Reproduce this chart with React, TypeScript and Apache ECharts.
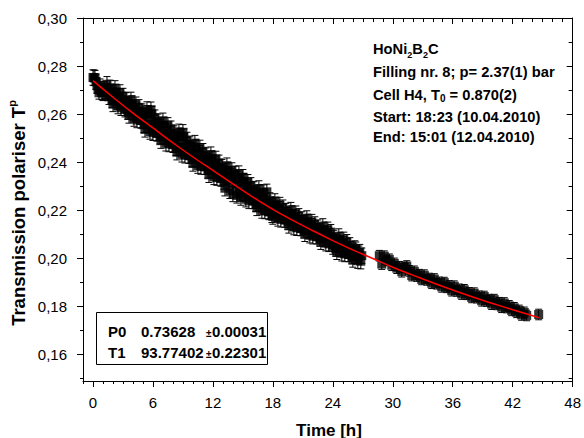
import React, { useEffect, useRef } from 'react';
import * as echarts from 'echarts';

const X_MAJOR = [0, 6, 12, 18, 24, 30, 36, 42, 48];
const X_MINOR = [-1, 1, 2, 3, 4, 5, 7, 8, 9, 10, 11, 13, 14, 15, 16, 17, 19, 20, 21, 22, 23, 25, 26, 27, 28, 29, 31, 32, 33, 34, 35, 37, 38, 39, 40, 41, 43, 44, 45, 46, 47];
const Y_MAJOR = [0.16, 0.18, 0.2, 0.22, 0.24, 0.26, 0.28, 0.3];
const Y_MINOR = [0.15, 0.17, 0.19, 0.21, 0.23, 0.25, 0.27, 0.29];

// measured points [time h, transmission], first run
const SEG1 = [[0,0.2752],[0.1,0.2751],[0.2,0.2750],[0.3,0.2735],[0.4,0.2718],[0.5,0.2704],[0.6,0.2694],[0.7,0.2714],[0.8,0.2704],[0.9,0.2692],
[1.0,0.2688],[1.1,0.2704],[1.2,0.2697],[1.3,0.2694],[1.4,0.2724],[1.5,0.2688],[1.6,0.2672],[1.7,0.2709],[1.8,0.2689],[1.9,0.2658],
[2.0,0.2642],[2.1,0.2675],[2.2,0.2707],[2.3,0.2692],[2.4,0.2652],[2.5,0.2633],[2.6,0.2673],[2.7,0.2690],[2.8,0.2626],[2.9,0.2659],
[3.0,0.2675],[3.1,0.2636],[3.2,0.2620],[3.3,0.2657],[3.4,0.2637],[3.5,0.2610],[3.6,0.2594],[3.7,0.2627],[3.8,0.2659],[3.9,0.2644],
[4.0,0.2604],[4.1,0.2581],[4.2,0.2622],[4.3,0.2639],[4.4,0.2575],[4.5,0.2611],[4.6,0.2628],[4.7,0.2589],[4.8,0.2573],[4.9,0.2610],
[5.0,0.2593],[5.1,0.2555],[5.2,0.2536],[5.3,0.2578],[5.4,0.2619],[5.5,0.2603],[5.6,0.2555],[5.7,0.2527],[5.8,0.2618],[5.9,0.2600],
[6.0,0.2522],[6.1,0.2564],[6.2,0.2585],[6.3,0.2537],[6.4,0.2519],[6.5,0.2568],[6.6,0.2545],[6.7,0.2507],[6.8,0.2489],[6.9,0.2531],
[7.0,0.2572],[7.1,0.2554],[7.2,0.2506],[7.3,0.2478],[7.4,0.2530],[7.5,0.2553],[7.6,0.2475],[7.7,0.2517],[7.8,0.2539],[7.9,0.2491],
[8.0,0.2472],[8.1,0.2519],[8.2,0.2496],[8.3,0.2459],[8.4,0.2441],[8.5,0.2484],[8.6,0.2526],[8.7,0.2508],[8.8,0.2460],[8.9,0.2432],
[9.0,0.2524],[9.1,0.2506],[9.2,0.2428],[9.3,0.2470],[9.4,0.2492],[9.5,0.2444],[9.6,0.2426],[9.7,0.2473],[9.8,0.2450],[9.9,0.2412],
[10.0,0.2394],[10.1,0.2437],[10.2,0.2479],[10.3,0.2461],[10.4,0.2413],[10.5,0.2385],[10.6,0.2437],[10.7,0.2459],[10.8,0.2381],[10.9,0.2423],
[11.0,0.2445],[11.1,0.2398],[11.2,0.2380],[11.3,0.2427],[11.4,0.2404],[11.5,0.2365],[11.6,0.2347],[11.7,0.2389],[11.8,0.2431],[11.9,0.2414],
[12.0,0.2366],[12.1,0.2338],[12.2,0.2390],[12.3,0.2413],[12.4,0.2335],[12.5,0.2375],[12.6,0.2397],[12.7,0.2349],[12.8,0.2331],[12.9,0.2379],
[13.0,0.2356],[13.1,0.2319],[13.2,0.2291],[13.3,0.2343],[13.4,0.2385],[13.5,0.2365],[13.6,0.2317],[13.7,0.2280],[13.8,0.2342],[13.9,0.2365],
[14.0,0.2267],[14.1,0.2329],[14.2,0.2351],[14.3,0.2304],[14.4,0.2261],[14.5,0.2330],[14.6,0.2352],[14.7,0.2270],[14.8,0.2252],[14.9,0.2295],
[15.0,0.2337],[15.1,0.2320],[15.2,0.2272],[15.3,0.2245],[15.4,0.2297],[15.5,0.2316],[15.6,0.2238],[15.7,0.2281],[15.8,0.2303],[15.9,0.2256],
[16.0,0.2238],[16.1,0.2286],[16.2,0.2263],[16.3,0.2226],[16.4,0.2209],[16.5,0.2248],[16.6,0.2290],[16.7,0.2273],[16.8,0.2225],[16.9,0.2198],
[17.0,0.2250],[17.1,0.2273],[17.2,0.2196],[17.3,0.2239],[17.4,0.2276],[17.5,0.2210],[17.6,0.2192],[17.7,0.2240],[17.8,0.2217],[17.9,0.2180],
[18.0,0.2173],[18.1,0.2205],[18.2,0.2236],[18.3,0.2222],[18.4,0.2185],[18.5,0.2165],[18.6,0.2204],[18.7,0.2221],[18.8,0.2161],[18.9,0.2193],
[19.0,0.2210],[19.1,0.2174],[19.2,0.2160],[19.3,0.2196],[19.4,0.2179],[19.5,0.2150],[19.6,0.2136],[19.7,0.2168],[19.8,0.2200],[19.9,0.2186],
[20.0,0.2149],[20.1,0.2129],[20.2,0.2168],[20.3,0.2185],[20.4,0.2126],[20.5,0.2158],[20.6,0.2174],[20.7,0.2138],[20.8,0.2125],[20.9,0.2161],
[21.0,0.2144],[21.1,0.2115],[21.2,0.2101],[21.3,0.2133],[21.4,0.2165],[21.5,0.2151],[21.6,0.2115],[21.7,0.2095],[21.8,0.2133],[21.9,0.2150],
[22.0,0.2091],[22.1,0.2123],[22.2,0.2140],[22.3,0.2104],[22.4,0.2091],[22.5,0.2127],[22.6,0.2110],[22.7,0.2081],[22.8,0.2068],[22.9,0.2100],
[23.0,0.2132],[23.1,0.2118],[23.2,0.2082],[23.3,0.2062],[23.4,0.2101],[23.5,0.2118],[23.6,0.2059],[23.7,0.2091],[23.8,0.2108],[23.9,0.2072],
[24.0,0.2048],[24.1,0.2084],[24.2,0.2067],[24.3,0.2039],[24.4,0.2026],[24.5,0.2058],[24.6,0.2090],[24.7,0.2076],[24.8,0.2040],[24.9,0.2020],
[25.0,0.2059],[25.1,0.2076],[25.2,0.2017],[25.3,0.2049],[25.4,0.2066],[25.5,0.2030],[25.6,0.2017],[25.7,0.2053],[25.8,0.2036],[25.9,0.2007],
[26.0,0.1994],[26.1,0.2027],[26.2,0.2040],[26.3,0.2035],[26.4,0.2009],[26.5,0.1989],[26.6,0.2018],[26.7,0.2025],[26.8,0.1987],[26.9,0.2010]];
// second run
const SEG2 = [[28.65,0.2010],[28.9,0.1975],[29.15,0.2008],[29.4,0.1990],[29.65,0.1995],[29.9,0.1970],[30.15,0.1978],[30.4,0.1958],[30.65,0.1964],[30.9,0.1943],[31.15,0.1961],[31.4,0.1967],[31.65,0.1947],[31.9,0.1927],[32.15,0.1945],[32.4,0.1925],[32.65,0.1931],[32.9,0.1911],[33.15,0.1929],[33.4,0.1909],[33.65,0.1915],[33.9,0.1895],[34.15,0.1913],[34.4,0.1893],[34.65,0.1899],[34.9,0.1880],[35.15,0.1898],[35.4,0.1878],[35.65,0.1884],[35.9,0.1864],[36.15,0.1883],[36.4,0.1863],[36.65,0.1870],[36.9,0.1850],[37.15,0.1868],[37.4,0.1849],[37.65,0.1855],[37.9,0.1836],[38.15,0.1854],[38.4,0.1835],[38.65,0.1841],[38.9,0.1822],[39.15,0.1840],[39.4,0.1821],[39.65,0.1827],[39.9,0.1808],[40.15,0.1827],[40.4,0.1807],[40.65,0.1814],[40.9,0.1795],[41.15,0.1813],[41.4,0.1794],[41.65,0.1801],[41.9,0.1782],[42.15,0.1793],[42.4,0.1774],[42.65,0.1782],[42.9,0.1763],[43.15,0.1774],[43.4,0.1761]];
const SEG3 = [[44.6, 0.1765]];
const ERR1 = 0.0032;
const ERR2 = 0.0022;

// fit curve
const FIT_T = [0, 2, 4, 6, 8, 10, 12, 14, 16, 18, 20, 22, 24, 26, 28, 30, 32, 34, 36, 38, 40, 42, 44, 44.7];
const FIT_Y = [0.2739, 0.2670, 0.2604, 0.2542, 0.2480, 0.2421, 0.2365, 0.2309, 0.2254, 0.2203, 0.2157, 0.2114, 0.2073, 0.2034, 0.1998, 0.1962, 0.1929, 0.1897, 0.1867, 0.1838, 0.1811, 0.1785, 0.1760, 0.1751];

const FONT = "'Liberation Sans', Arial, Helvetica, sans-serif";

export default function App() {
  const ref = useRef<HTMLDivElement>(null);
  useEffect(() => {
    if (!ref.current) return;
    const chart = echarts.init(ref.current, undefined, { renderer: 'svg' });
    const cv = document.createElement('canvas').getContext('2d')!;
    const w = (t: string, f: string) => { cv.font = f; return cv.measureText(t).width; };

    const xMin = -1, xMax = 48, yMin = 0.1488, yMax = 0.30;
    const black = { color: '#000', width: 1 };
    const baseX = { type: 'value', min: xMin, max: xMax, splitLine: { show: false }, gridIndex: 0 };
    const baseY = { type: 'value', min: yMin, max: yMax, splitLine: { show: false }, gridIndex: 0 };

    const errSeries = (data: number[][], err: number) => ({
      type: 'custom',
      xAxisIndex: 0, yAxisIndex: 0,
      data: data.map(d => [d[0], d[1], err]),
      encode: { x: 0, y: 1 },
      z: 2,
      renderItem: (params: any, api: any) => {
        const x = api.value(0), y = api.value(1), e = api.value(2);
        const p1 = api.coord([x, y + e]);
        const p2 = api.coord([x, y - e]);
        const hw = 3.5;
        const st = { stroke: '#000', lineWidth: 1 };
        return {
          type: 'group', children: [
            { type: 'line', shape: { x1: p1[0], y1: p1[1], x2: p2[0], y2: p2[1] }, style: st },
            { type: 'line', shape: { x1: p1[0] - hw, y1: p1[1], x2: p1[0] + hw, y2: p1[1] }, style: st },
            { type: 'line', shape: { x1: p2[0] - hw, y1: p2[1], x2: p2[0] + hw, y2: p2[1] }, style: st },
          ],
        };
      },
    });
    const ptSeries = (data: number[][]) => ({
      type: 'scatter', xAxisIndex: 0, yAxisIndex: 0, data,
      symbol: 'rect', symbolSize: 9, itemStyle: { color: '#000' }, z: 3,
    });

    const annSize = 14.7;
    const boldA = `bold ${annSize}px ${FONT}`;
    const bold9 = `bold 9px ${FONT}`;
    const bold10 = `bold 10px ${FONT}`;
    const txt = (text: string, x: number, y: number, font: string, align = 'left') => ({
      type: 'text', x, y, z: 100,
      style: { text, font, fill: '#000', textAlign: align, textVerticalAlign: 'middle' },
    });

    // line 1: HoNi2B2C
    const ax = 373;
    const l1: any[] = [];
    let cx = ax;
    const parts1: [string, boolean][] = [['HoNi', false], ['2', true], ['B', false], ['2', true], ['C', false]];
    parts1.forEach(([s, sub]) => {
      l1.push(txt(s, cx, sub ? 55 : 49, sub ? bold9 : boldA));
      cx += w(s, sub ? bold9 : boldA);
    });
    // line 3
    const c1 = 'Cell H4, T';
    const c1w = w(c1, boldA);
    const c0w = w('0', bold10);
    const l3 = [
      txt(c1, ax, 95, boldA),
      txt('0', ax + c1w, 98, bold10),
      txt(' = 0.870(2)', ax + c1w + c0w, 95, boldA),
    ];

    // y title
    const yFont = `bold 18.5px ${FONT}`;
    const supFont = `bold 11px ${FONT}`;
    const yt = 'Transmission polariser T';
    const ytw = w(yt, yFont);
    const ypw = w('p', supFont);
    const tot = ytw + ypw;
    const yTitle = {
      type: 'group', x: 18, y: 213, rotation: Math.PI / 2, z: 100,
      children: [
        { type: 'text', x: -tot / 2, y: 0, style: { text: yt, font: yFont, fill: '#000', textAlign: 'left', textVerticalAlign: 'middle' } },
        { type: 'text', x: -tot / 2 + ytw, y: -6, style: { text: 'p', font: supFont, fill: '#000', textAlign: 'left', textVerticalAlign: 'middle' } },
      ],
    };

    const boxFont = `bold 15px ${FONT}`;
    const pmFont = `bold 10px ${FONT}`;

    chart.setOption({
      animation: false,
      backgroundColor: '#fff',
      grid: { left: 83, right: 11, top: 18, bottom: 57, containLabel: false },
      xAxis: [
        { ...baseX, position: 'bottom',
          axisLine: { show: true, onZero: false, lineStyle: black },
          axisTick: { show: true, inside: false, length: 6, customValues: X_MAJOR, lineStyle: black },
          axisLabel: { show: true, customValues: X_MAJOR, color: '#000', fontSize: 15, fontFamily: FONT, margin: 14 } },
        { ...baseX, position: 'bottom',
          axisLine: { show: false, onZero: false },
          axisTick: { show: true, inside: false, length: 3, customValues: X_MINOR, lineStyle: black },
          axisLabel: { show: false } },
        { ...baseX, position: 'top',
          axisLine: { show: true, onZero: false, lineStyle: black },
          axisTick: { show: true, inside: true, length: 6, customValues: X_MAJOR, lineStyle: black },
          axisLabel: { show: false } },
        { ...baseX, position: 'top',
          axisLine: { show: false, onZero: false },
          axisTick: { show: true, inside: true, length: 4, customValues: X_MINOR, lineStyle: black },
          axisLabel: { show: false } },
      ],
      yAxis: [
        { ...baseY, position: 'left',
          axisLine: { show: true, onZero: false, lineStyle: black },
          axisTick: { show: true, inside: false, length: 6, customValues: Y_MAJOR, lineStyle: black },
          axisLabel: { show: true, customValues: Y_MAJOR, color: '#000', fontSize: 15, fontFamily: FONT, margin: 16,
            formatter: (v: number) => v.toFixed(2).replace('.', ',') } },
        { ...baseY, position: 'left',
          axisLine: { show: false, onZero: false },
          axisTick: { show: true, inside: false, length: 3, customValues: Y_MINOR, lineStyle: black },
          axisLabel: { show: false } },
        { ...baseY, position: 'right',
          axisLine: { show: true, onZero: false, lineStyle: black },
          axisTick: { show: true, inside: true, length: 6, customValues: Y_MAJOR, lineStyle: black },
          axisLabel: { show: false } },
        { ...baseY, position: 'right',
          axisLine: { show: false, onZero: false },
          axisTick: { show: true, inside: true, length: 4, customValues: Y_MINOR, lineStyle: black },
          axisLabel: { show: false } },
      ],
      series: [
        errSeries(SEG1, ERR1),
        errSeries(SEG2, ERR2),
        errSeries(SEG3, ERR2),
        ptSeries(SEG1),
        ptSeries(SEG2),
        ptSeries(SEG3),
        {
          type: 'line', xAxisIndex: 0, yAxisIndex: 0,
          data: FIT_T.map((t, i) => [t, FIT_Y[i]]),
          smooth: true, showSymbol: false, symbol: 'none',
          lineStyle: { color: '#ff0000', width: 1.5 }, z: 10,
        },
      ],
      graphic: [
        ...l1,
        txt('Filling nr. 8; p= 2.37(1) bar', ax, 72, boldA),
        ...l3,
        txt('Start: 18:23 (10.04.2010)', ax, 117, boldA),
        txt('End: 15:01 (12.04.2010)', ax, 137, boldA),
        { type: 'rect', z: 90, shape: { x: 96.5, y: 312.5, width: 171, height: 52 }, style: { fill: '#fff', stroke: '#000', lineWidth: 1 } },
        txt('P0', 108, 331, boxFont),
        txt('0.73628', 141, 331, boxFont),
        txt('±', 206, 333, pmFont),
        txt('0.00031', 212, 331, boxFont),
        txt('T1', 108, 352, boxFont),
        txt('93.77402', 141, 352, boxFont),
        txt('±', 206, 354, pmFont),
        txt('0.22301', 212, 352, boxFont),
        txt('Time [h]', 329, 430, `bold 17px ${FONT}`, 'center'),
        yTitle,
      ],
    });
    return () => chart.dispose();
  }, []);
  return <div ref={ref} style={{ width: 584, height: 438, position: 'absolute', left: 0, top: 0 }} />;
}
